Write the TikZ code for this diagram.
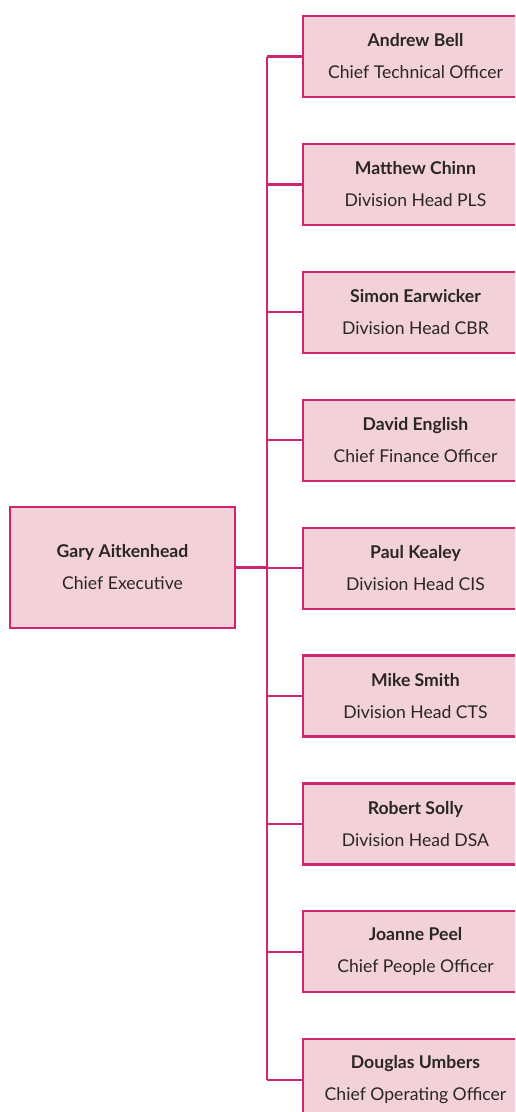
\documentclass[tikz,border=0pt]{standalone}
\usepackage{fontspec}
\setmainfont{Lato}
\definecolor{mag}{HTML}{D0246F}
\definecolor{pinkfill}{HTML}{F2D1D8}
\definecolor{txt}{HTML}{2A2626}
\begin{document}
\begin{tikzpicture}[x=1pt,y=1pt,
 person/.style={draw=mag, line width=2.2pt, fill=pinkfill, minimum width=225pt, minimum height=81pt, inner sep=0pt, align=center, text=txt, font=\fontsize{17.6}{32}\selectfont},
 conn/.style={draw=mag, line width=2.2pt}]
\useasboundingbox (0,0) rectangle (515,-1112);
\clip (0,0) rectangle (515,-1112);
\node[person, minimum height=121pt] (ceo) at (122.5,-567.5) {\textbf{Gary Aitkenhead}\\Chief Executive};
\coordinate (sp) at (267,0);
\foreach \i/\n/\t in {0/Andrew Bell/Chief Technical Officer,
 1/Matthew Chinn/Division Head PLS,
 2/Simon Earwicker/Division Head CBR,
 3/David English/Chief Finance Officer,
 4/Paul Kealey/Division Head CIS,
 5/Mike Smith/Division Head CTS,
 6/Robert Solly/Division Head DSA,
 7/Joanne Peel/Chief People Officer,
 8/Douglas Umbers/Chief Operating Officer}{
 \node[person] (r\i) at (415.5,{-56.5-127.9*\i}) {\textbf{\n}\\\t};
}
\draw[conn] (r0.west -| sp) -- (r8.west -| sp);
\foreach \i in {0,...,8}{
 \draw[conn] (r\i.west -| sp) -- (r\i.west);
}
\draw[conn] (ceo.east) -- (ceo.east -| sp);
\end{tikzpicture}
\end{document}
